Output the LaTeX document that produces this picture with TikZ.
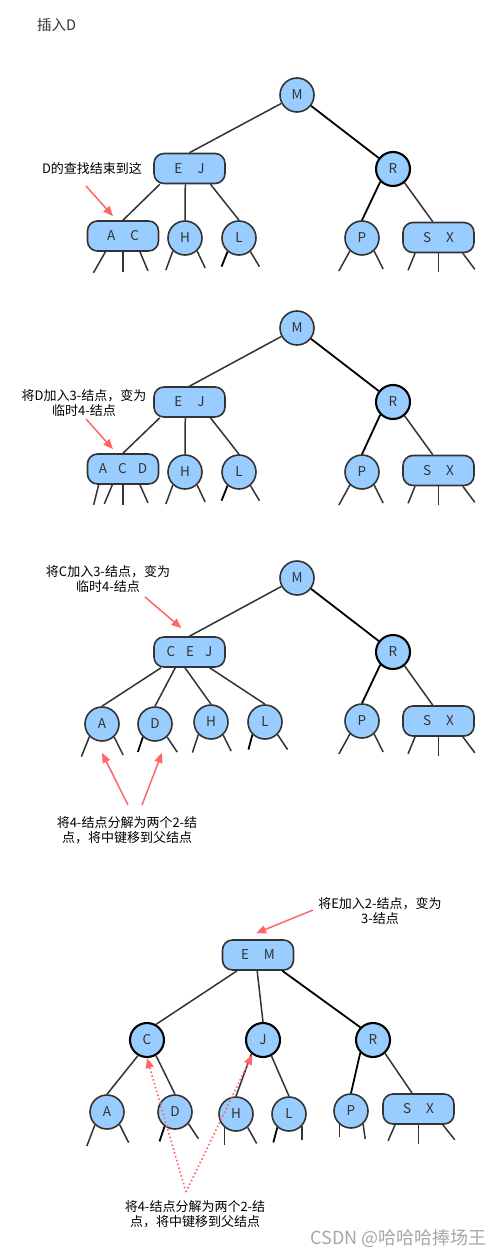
\documentclass[tikz,border=0pt]{standalone}
\usepackage{fontspec}
\setmainfont{Noto Sans CJK SC}
\usetikzlibrary{arrows.meta}
\definecolor{keyblue}{HTML}{99CCFF}
\definecolor{ink}{HTML}{333333}
\definecolor{hintred}{HTML}{FF6666}
\newcommand{\keygap}{\hspace{15pt}}
\newcommand{\smallgap}{\hspace{11pt}}

\begin{document}
\begin{tikzpicture}[x=1pt, y=-1pt,
    key/.style={circle, draw=ink, fill=keyblue, line width=1.6pt, minimum size=34pt, inner sep=0pt, text=ink, font=\fontsize{13.5}{15}\selectfont},
    keybold/.style={key, draw=black, line width=2.1pt},
    pair/.style={rectangle, rounded corners=10pt, draw=ink, fill=keyblue, line width=1.6pt, minimum width=71pt, minimum height=30pt, inner sep=0pt, text=ink, font=\fontsize{13.5}{15}\selectfont},
    link/.style={draw=ink, line width=1.5pt},
    linkdark/.style={draw=black, line width=1.8pt},
    stub/.style={link},
    note/.style={align=center, inner sep=0pt, font=\fontsize{13}{15}\selectfont},
    hint/.style={draw=hintred, line width=1.5pt, -{Triangle[length=10pt,width=8pt]}},
    hintdots/.style={hint, line width=1.7pt, dash pattern=on 1.5pt off 2.5pt}]
    \useasboundingbox (0,0) rectangle (503,1257);

    % Step 1: search for D ends at the 3-node (A, C)
    \node[note, anchor=west, text=ink, font=\fontsize{14.5}{16}\selectfont] (title) at (37,25) {插入D};
    \node[key] (m1) at (297,95) {M};
    \node[pair] (ej1) at (189.5,168.5) {E\keygap J};
    \node[keybold] (r1) at (393,169) {R};
    \node[pair] (ac1) at (123,236) {A\keygap C};
    \foreach \n/\t/\x in {h1/H/185, l1/L/239, p1/P/362} {
        \node[key] (\n) at (\x,238) {\t};
    }
    \node[pair] (sx1) at (438.5,237.5) {S\keygap X};

    \draw[link] (m1) -- (ej1.north);
    \draw[linkdark] (m1) -- (r1);
    \draw[link] (ej1.-152) -- (ac1.north);
    \draw[link] (ej1.-105) -- (h1);
    \draw[link] (ej1.-37) -- (l1.north);
    \draw[linkdark] (r1.-135) -- (p1.north);
    \draw[link] (r1.-50) -- (sx1.110);

    \foreach \s/\dx/\dy in {ac1.-138/-12/21, ac1.-90/0/20, ac1.-43/8/19, h1.-133/-7/19, h1.-47/8/17, l1.-50/9/15, p1.-133/-11/20, p1.-47/9/18, sx1.-146/-7/17, sx1.-90/0/19, sx1.-33/12/16} {
        \draw[stub] (\s) -- ++(\dx,\dy);
    }
    \draw[linkdark] (l1.-130) -- ++(-6,15);

    \node[note] (note1) at (92,169) {D的查找结束到这};
    \coordinate (tail1) at (86,186);
    \draw[hint] (tail1) -- ([xshift=-10pt,yshift=4pt]ac1.north);

    % Step 2: D joins the 3-node, temporary 4-node
    \node[key] (m2) at (297,328) {M};
    \node[pair] (ej2) at (189.5,402) {E\keygap J};
    \node[keybold] (r2) at (393,402) {R};
    \node[pair] (acd2) at (123,469) {A\smallgap C\smallgap D};
    \foreach \n/\t/\x in {h2/H/185, l2/L/239, p2/P/362} {
        \node[key] (\n) at (\x,472) {\t};
    }
    \node[pair] (sx2) at (438.5,470.5) {S\keygap X};

    \draw[link] (m2) -- (ej2.north);
    \draw[linkdark] (m2) -- (r2);
    \draw[link] (ej2.-152) -- (acd2.north);
    \draw[link] (ej2.-105) -- (h2);
    \draw[link] (ej2.-37) -- (l2.north);
    \draw[linkdark] (r2.-135) -- (p2.north);
    \draw[link] (r2.-50) -- (sx2.110);

    \foreach \s/\dx/\dy in {acd2.-147/-5/20, acd2.-124/-8/19, acd2.-90/0/20, acd2.-43/8/18, h2.-133/-7/19, h2.-47/8/17, l2.-50/9/15, p2.-133/-11/20, p2.-47/9/18, sx2.-146/-7/17, sx2.-90/0/19, sx2.-33/12/16} {
        \draw[stub] (\s) -- ++(\dx,\dy);
    }
    \draw[linkdark] (l2.-130) -- ++(-6,15);

    \node[note] (note2) at (84,403) {将D加入3-结点，变为\\临时4-结点};
    \coordinate (tail2) at (86,419);
    \draw[hint] (tail2) -- ([xshift=-10pt,yshift=4pt]acd2.north);

    % Step 3: C moves up, (A, C, D) splits into two 2-nodes
    \node[key] (m3) at (297,578) {M};
    \node[pair] (cej3) at (189.5,652) {C\smallgap E\smallgap J};
    \node[keybold] (r3) at (393,652) {R};
    \foreach \n/\t/\x/\y in {a3/A/102/724, d3/D/155/724, h3/H/211/722, l3/L/265/722, p3/P/362/721} {
        \node[key] (\n) at (\x,\y) {\t};
    }
    \node[pair] (sx3) at (438.5,721) {S\keygap X};

    \draw[link] (m3) -- (cej3.north);
    \draw[linkdark] (m3) -- (r3);
    \draw[link] (cej3.-151) -- (a3.north);
    \draw[link] (cej3.-132) -- (d3.north);
    \draw[link] (cej3.-106) -- (h3.north);
    \draw[link] (cej3.-38) -- (l3.north);
    \draw[linkdark] (r3.-135) -- (p3.north);
    \draw[link] (r3.-50) -- (sx3.110);

    \foreach \s/\dx/\dy in {a3.-135/-8/20, a3.-47/9/18, d3.-47/10/15, h3.-135/-6/18, h3.-47/8/16, l3.-45/10/15, p3.-133/-11/20, p3.-47/9/18, sx3.-146/-7/17, sx3.-90/0/19, sx3.-33/12/16} {
        \draw[stub] (\s) -- ++(\dx,\dy);
    }
    \draw[linkdark] (d3.-133) -- ++(-5,15);
    \draw[linkdark] (l3.-135) -- ++(-4,15);

    \node[note] (note3) at (108,578.5) {将C加入3-结点，变为\\临时4-结点};
    \coordinate (tail3) at (145,597);
    \draw[hint] (tail3) -- ([xshift=-8pt,yshift=8pt]cej3.north);

    \node[note] (note3b) at (127,830.5) {将4-结点分解为两个2-结\\点，将中键移到父结点};
    \coordinate (tail3a) at (128,805);
    \coordinate (tail3b) at (142,805);
    \draw[hint] (tail3a) -- ([yshift=-11pt]a3.south);
    \draw[hint] (tail3b) -- ([xshift=7pt,yshift=-11pt]d3.south);

    % Step 4: E joins the root, which becomes a 3-node
    \node[pair] (em4) at (258,955) {E\keygap M};
    \node[keybold] (c4) at (147,1040) {C};
    \node[keybold] (j4) at (263,1040) {J};
    \node[keybold] (r4) at (373,1040) {R};
    \foreach \n/\t/\x/\y in {a4/A/107/1112, d4/D/175/1112, h4/H/236/1114, l4/L/289/1114, p4/P/351/1111} {
        \node[key] (\n) at (\x,\y) {\t};
    }
    \node[pair] (sx4) at (418.5,1109) {S\keygap X};

    \draw[link] (em4.-143) -- (c4.60);
    \draw[link] (em4.-93) -- (j4.north);
    \draw[linkdark] (em4.-33) -- (r4.135);
    \draw[link] (c4.-120) -- (a4.north);
    \draw[link] (c4.-60) -- (d4.north);
    \draw[link] (j4.-130) -- (h4.north);
    \draw[link] (j4.-62) -- (l4.north);
    \draw[linkdark] (r4.-135) -- (p4.north);
    \draw[link] (r4.-48) -- (sx4.112);

    \foreach \s/\dx/\dy in {a4.-133/-8/21, a4.-45/9/18, d4.-41/10/15, h4.-131/0/18, h4.-49/9/16, l4.-43/0/14, p4.-131/0/13, p4.-47/2/15, sx4.-146/-7/16, sx4.-90/0/19, sx4.-33/12/15} {
        \draw[stub] (\s) -- ++(\dx,\dy);
    }
    \draw[linkdark] (d4.-126) -- ++(-5,15);
    \draw[linkdark] (l4.-131) -- ++(-4,15);

    \node[note] (note4) at (380,910.5) {将E加入2-结点，变为\\3-结点};
    \coordinate (tail4) at (313,910);
    \draw[hint] (tail4) -- ([xshift=-2pt,yshift=6pt]em4.north);

    \node[note] (note4b) at (195,1214.5) {将4-结点分解为两个2-结\\点，将中键移到父结点};
    \coordinate (tail4b) at (186,1192);
    \draw[hintdots] (tail4b) -- (c4.south);
    \draw[hintdots] (tail4b) -- (j4.-126);

    \node[anchor=east, inner sep=0pt, text=gray!70, font=\fontsize{18}{20}\selectfont] (csdn) at (487,1238) {CSDN @哈哈哈捧场王};
\end{tikzpicture}
\end{document}
